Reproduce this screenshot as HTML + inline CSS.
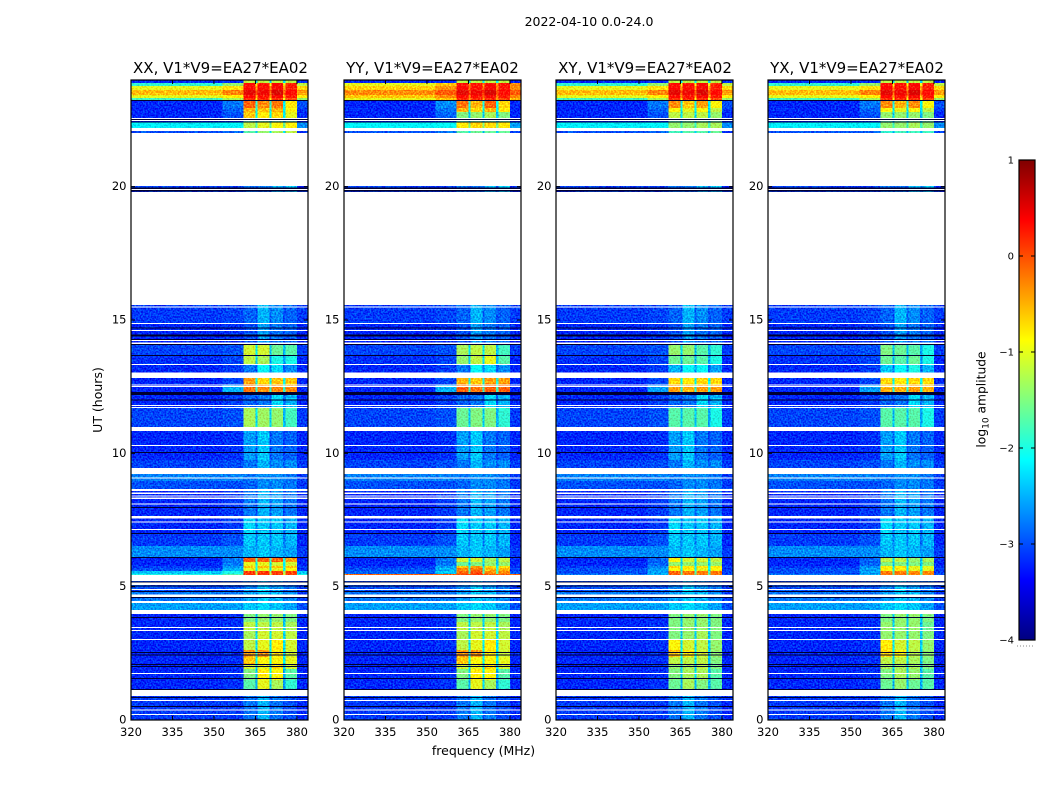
<!DOCTYPE html>
<html lang="en">
<head>
<meta charset="utf-8">
<title>2022-04-10 waterfall amplitude</title>
<style>
html,body{margin:0;padding:0;background:#fff;}
svg{display:block;}
text{font-family:"DejaVu Sans","Liberation Sans",sans-serif;fill:#000;}
</style>
</head>
<body>
<svg id="chart" xmlns="http://www.w3.org/2000/svg" width="1050" height="800" viewBox="0 0 1050 800">
  <defs>
    <filter id="grain" filterUnits="objectBoundingBox" x="0" y="0" width="1" height="1" color-interpolation-filters="sRGB">
      <feTurbulence type="fractalNoise" baseFrequency="0.6" numOctaves="1" seed="7" result="noise"/>
      <feColorMatrix in="noise" type="matrix" values="0 0 0 0 0.4  2.6 0 0 0 -0.9  1.2 0 0 0 -0.2  0 0 0 0 1" result="tint"/>
      <feComposite in="SourceGraphic" in2="tint" operator="arithmetic" k1="0" k2="1" k3="0.42" k4="-0.168" result="mixed"/>
      <feComposite in="mixed" in2="SourceAlpha" operator="in"/>
    </filter>
    <linearGradient id="jet-gradient" x1="0" y1="1" x2="0" y2="0"></linearGradient>
  </defs>
  <text x="589" y="26" font-size="12.5" text-anchor="middle">2022-04-10 0.0-24.0</text>
  <text x="483.5" y="755" font-size="12.5" text-anchor="middle">frequency (MHz)</text>
  <text x="0" y="0" font-size="12.5" text-anchor="middle" transform="translate(102 400) rotate(-90)">UT (hours)</text>
  <g id="panels"></g>
  <g id="colorbar"></g>
</svg>
<script>
const panelTitles = ["XX, V1*V9=EA27*EA02", "YY, V1*V9=EA27*EA02", "XY, V1*V9=EA27*EA02", "YX, V1*V9=EA27*EA02"];
const xTickValues = [320, 335, 350, 365, 380];
const yTickValues = [0, 5, 10, 15, 20];
const colorTicks = [-4, -3, -2, -1, 0, 1];

/* frequency cell edges in MHz: background, mid, band 1, gap, band 2, gap, band 3, gap, band 4, right */
const cellEdges = [320, 353, 360.7, 365, 365.7, 370, 370.8, 375, 375.8, 380.1, 384];
const cellLevel = [0, 1, 2, -1, 3, -1, 4, -1, 5, 6];

/* time spans in UT hours */
const spanHours = [
[24,23.89],[23.89,23.78],[23.78,23.63],[23.63,23.44],[23.44,23.33],[23.33,23.21],[23.21,22.95],[22.95,22.8],[22.8,22.58],[22.58,22.43],
[22.43,22.2],[22.09,22.01],[20.03,19.8],[15.56,14.85],[14.85,14.06],[14.06,13.69],[13.69,13.35],[13.35,13.03],[12.83,12.56],[12.56,12.3],
[12.3,11.7],[11.7,10.99],[10.84,9.75],[9.75,9.45],[9.23,8.96],[8.96,8.66],[8.66,7.65],[7.65,6.98],[6.98,6.53],[6.53,6.08],
[6.08,5.93],[5.93,5.78],[5.78,5.7],[5.7,5.59],[5.59,5.48],[5.48,5.44],[5.21,4.84],[4.84,4.46],[4.46,4.13],[3.98,3.68],
[3.68,3.38],[3.38,3.0],[3.0,2.63],[2.63,2.36],[2.36,2.1],[2.1,1.91],[1.91,1.5],[1.5,1.14],[0.9,0]
];

/* log10 amplitude per span: bg, mid, band1, band2, band3, band4, right */
const levelsXX = [
[-3.2,-3.2,-1.2,-1.2,-1.2,-1.2,-3.2],[-1.9,-1.4,.35,.3,.4,.2,-1.2],[-1,-.75,.35,.3,.4,.25,-.7],[-.55,-.25,.5,.45,.55,.35,-.4],[-1,-.8,.35,.3,.4,.25,-.8],[-1.8,-1.3,.15,.15,.15,.05,-1.4],
[-3.2,-2.8,-.1,-.3,-.2,-.8,-3],[-3.2,-2.9,-.5,-.6,-.5,-.9,-3.1],[-3.2,-3,-.6,-.8,-.7,-1,-3.2],[-3.3,-3.2,-1.7,-1.6,-1.6,-1.6,-3.3],
[-2.2,-2.15,-1.2,-1,-.9,-.85,-2.7],[-3,-2.9,-1.7,-1.4,-1.3,-1.2,-3.1],[-3.1,-3.1,-2.8,-2.8,-2.5,-2.4,-3.2],[-3.1,-3.05,-2.9,-2.5,-2.7,-2.9,-3.1],[-3.2,-3.15,-3,-2.6,-2.8,-2.9,-3.2],
[-3.05,-3,-1.1,-1.1,-1.6,-1.7,-3.1],[-3.15,-3.05,-1.2,-1.3,-2,-2,-3.2],[-3.2,-3.1,-2.8,-2.1,-2.3,-2.7,-3.2],[-3.2,-3.05,-.4,-.7,-.6,-.6,-3.2],[-3.2,-2.5,-.2,-.3,-.3,-.3,-3.2],
[-3.2,-3.1,-2.9,-2.8,-2.3,-2.5,-3.2],[-3.05,-3,-1.3,-1.35,-1.4,-1.8,-3.1],[-3.2,-3.15,-2.6,-2.4,-2.8,-2.9,-3.2],[-3.05,-3,-2.8,-2.5,-2.7,-2.7,-3.1],[-2.75,-2.75,-2.8,-2.7,-2.7,-2.8,-3.1],
[-3,-3,-2.9,-2.7,-2.7,-2.8,-3.1],[-3.2,-3.1,-2.8,-2.5,-2.6,-2.8,-3.2],[-3.2,-3.1,-2.3,-2.4,-2.4,-2.5,-3.2],[-3.1,-3,-2.4,-2.4,-2.4,-2.5,-3.2],[-2.7,-2.7,-2.5,-2.4,-2.5,-2.6,-3.1],
[-3.2,-2.8,-.1,-.1,-.1,-.4,-3.2],[-3.2,-2.8,-1,-1,-1.1,-1.1,-3.2],[-3.1,-2.6,-.6,-.6,-.6,-.6,-3.1],[-3,-2.5,-1,-1,-1,-.9,-3.1],[-2.4,-2,.1,.1,.1,.05,-2.4],
[-2,-1.7,.1,.1,.1,.05,-2],[-3,-2.95,-2.7,-2.4,-2.6,-2.8,-3.1],[-2.8,-2.8,-2.6,-2.4,-2.5,-2.7,-3.1],[-2.6,-2.6,-2.4,-2.3,-2.4,-2.6,-3],[-3.2,-3.15,-1.5,-1.4,-1.4,-1.5,-3.2],
[-3.2,-3.15,-1.2,-1.2,-1.2,-1.3,-3.2],[-3.2,-3.15,-1.3,-1.1,-1.1,-1.2,-3.2],[-3.2,-3.15,-1.2,-1,-.8,-1.1,-3.2],[-3.2,-3.15,-.4,-.4,-.8,-1.1,-3.2],[-3.2,-3.15,-.6,-.9,-.9,-1,-3.2],
[-3.2,-3.15,-1.1,-1,-.7,-1.1,-3.2],[-3.2,-3.15,-1.5,-.8,-.9,-1.7,-3.2],[-3.2,-3.15,-1.7,-1,-1.3,-1.9,-3.2],[-3.1,-3.1,-2.8,-2.5,-2.8,-3,-3.2]
];

/* per-polarisation differences: span index followed by the seven levels */
const overridesYY = [
[1,-1,-.6,.35,.3,.4,.3,-.3],[2,-.65,-.35,.35,.3,.4,.3,-.3],[3,-.3,-.05,.5,.45,.55,.35,-.05],[4,-.6,-.3,.35,.3,.4,.25,-.3],[5,-1,-.6,.15,.15,.15,.05,-.5],
[6,-3.2,-2.7,-.2,-.5,-.1,-.7,-3.2],[7,-3.2,-2.8,-.5,-.7,-.5,-.8,-3.2],[8,-3.2,-2.9,-1.5,-1.4,-1.3,-1.5,-3.2],[10,-2.15,-2.1,-.8,-.7,-.7,-.8,-2.6],[11,-3,-2.8,-1.7,-1.6,-1.6,-1.6,-3.1],
[15,-3.05,-3,-1.3,-1.2,-1.2,-1.8,-3.1],[16,-3.15,-3.05,-1.4,-1.2,-1,-1.7,-3.2],[18,-3.2,-3.05,-.5,-.6,-.4,-.4,-3.2],[19,-3.2,-2.5,-.1,-.2,-.1,-.1,-3.2],[21,-3.05,-3,-1.6,-1.5,-1.5,-1.9,-3.1],
[30,-3.2,-2.8,-1.1,-1.1,-1.3,-1.2,-3.2],[31,-3.2,-2.8,-1.6,-1.5,-1.4,-1.4,-3.2],[32,-3.1,-2.6,-.6,-.4,-.7,-.7,-3.1],[33,-3,-2.5,-.3,-.2,-.5,-.5,-3.1],[34,-2.9,-2.4,-.1,.05,-.3,-.3,-3],[35,-.1,-.1,0,.05,-.1,-.1,-.1]
];
const overridesXY = [
[6,-3.2,-2.8,-.3,-.6,-.4,-.9,-3],[7,-3.2,-2.9,-.9,-1,-.9,-1.2,-3.1],[8,-3.2,-3,-1.2,-1.2,-1.2,-1.4,-3.2],[10,-2.2,-2.15,-1.4,-1.4,-1.3,-1.3,-2.7],[11,-3,-2.9,-1.8,-1.7,-1.7,-1.6,-3.1],
[15,-3.05,-3,-1.4,-1.4,-1.7,-1.9,-3.1],[16,-3.15,-3.05,-1.6,-1.6,-1.7,-2,-3.2],[17,-3.2,-3.1,-2.5,-2.1,-2.1,-2.6,-3.2],[18,-3.2,-3.05,-.7,-.8,-.7,-.7,-3.2],[19,-3.2,-2.6,-.4,-.5,-.4,-.4,-3.2],[21,-3.05,-3,-1.7,-1.7,-1.7,-2,-3.1],
[30,-3.2,-2.9,-.9,-1.1,-1.1,-1.2,-3.2],[31,-3.2,-2.9,-1.4,-1.4,-1.4,-1.4,-3.2],[32,-3.1,-2.7,-.7,-.8,-.8,-.8,-3.1],[33,-3,-2.6,-.9,-.8,-1,-.9,-3.1],[34,-3,-2.6,-.1,-.2,-.2,-.2,-3.1],[35,-2.8,-2.5,-.1,-.2,-.2,-.2,-3],
[40,-3.2,-3.15,-1.5,-1.4,-1.4,-1.5,-3.2],[41,-3.2,-3.15,-1.5,-1.4,-1.3,-1.5,-3.2],[42,-3.2,-3.15,-.9,-1.1,-1.2,-1.4,-3.2],[43,-3.2,-3.15,-.6,-.8,-1.1,-1.4,-3.2],[44,-3.2,-3.15,-1.2,-1.2,-1.2,-1.5,-3.2],[45,-3.2,-3.15,-1.4,-1.3,-1.2,-1.5,-3.2],[46,-3.2,-3.15,-1.5,-1.3,-1.3,-1.7,-3.2],[47,-3.2,-3.15,-1.6,-1.3,-1.5,-1.7,-3.2]
];
const overridesYX = [
[6,-3.2,-2.8,-.3,-.5,-.3,-.9,-3],[7,-3.2,-2.9,-.9,-1,-.9,-1.2,-3.1],[8,-3.2,-3,-1.4,-1.4,-1.4,-1.5,-3.2],[10,-2.2,-2.15,-1.4,-1.4,-1.3,-1.4,-2.7],[11,-3,-2.9,-1.9,-1.8,-1.8,-1.8,-3.1],
[15,-3.05,-3,-1.5,-1.6,-1.7,-2,-3.1],[16,-3.15,-3.05,-1.6,-1.7,-1.6,-2,-3.2],[17,-3.2,-3.1,-2.4,-2.1,-2,-2.5,-3.2],[18,-3.2,-3.05,-.7,-.8,-.7,-.7,-3.2],[19,-3.2,-2.6,-.5,-.5,-.4,-.5,-3.2],[21,-3.05,-3,-1.7,-1.7,-1.7,-2,-3.1],
[30,-3.2,-2.9,-1.2,-1.2,-1.4,-1.3,-3.2],[31,-3.2,-2.9,-1.5,-1.5,-1.5,-1.5,-3.2],[32,-3.1,-2.7,-.8,-.8,-1,-1,-3.1],[33,-3,-2.6,-.9,-.8,-1,-1,-3.1],[34,-3,-2.6,-.2,-.2,-.3,-.3,-3.1],[35,-2.8,-2.5,-.2,-.2,-.3,-.3,-3],
[40,-3.2,-3.15,-1.4,-1.4,-1.4,-1.6,-3.2],[41,-3.2,-3.15,-1.4,-1.4,-1.4,-1.5,-3.2],[42,-3.2,-3.15,-.8,-1.1,-1.2,-1.4,-3.2],[43,-3.2,-3.15,-.7,-.9,-1.2,-1.4,-3.2],[44,-3.2,-3.15,-1.2,-1.2,-1.3,-1.5,-3.2],[45,-3.2,-3.15,-1.3,-1.3,-1.3,-1.5,-3.2],[46,-3.2,-3.15,-1.5,-1.3,-1.4,-1.7,-3.2],[47,-3.2,-3.15,-1.6,-1.4,-1.6,-1.7,-3.2]
];

/* flagged (no data) and very low amplitude intervals, UT hours */
const flaggedHours = [
[22.58,22.54],[22.5,22.46],[19.91,19.88],[15.51,15.47],[14.89,14.85],[14.63,14.59],[14.25,14.21],[14.16,14.1],[13.35,13.31],[12.58,12.54],[12.53,12.49],[11.81,11.78],[11.74,11.7],[10.31,10.28],
[9.09,9.06],[8.66,8.59],[8.53,8.48],[8.42,8.38],[8.34,8.29],[8.12,8.09],[7.65,7.56],[7.44,7.41],[7.16,7.13],[5.16,5.06],[4.91,4.88],[4.71,4.61],[4.46,4.39],[3.49,3.45],[3.38,3.34],[3.04,3],[1.76,1.73],[.75,.71],[.39,.36],[.23,.19]
];
const blankedHours = [
[23.25,23.21],[22.54,22.5],[22.44,22.41],[19.97,19.91],[19.88,19.82],[14.72,14.68],[14.46,14.38],[14.29,14.25],[14.1,14.06],[13.69,13.65],[12.3,12.19],[12.02,12],[10.05,10.01],[7.99,7.95],[7.01,6.98],[6.11,6.08],[5.2,5.17],[5.04,5.01],[4.84,4.8],[4.61,4.58],[3.86,3.83],[2.55,2.51],[2.46,2.42],[2.1,2.06],[2.03,1.99],[1.58,1.54],[1.16,1.13],[.86,.83],[.53,.49]
];

const NS = "http://www.w3.org/2000/svg";
const plotLefts = [131, 344, 556, 768];
const titleCenters = [220.5, 432.5, 645, 857];
const plotWidth = 177;
const plotTop = 80, plotBottom = 720;
const freqMin = 320, freqMax = 384;
const hourMax = 24;
const cbarX = 1019, cbarW = 16, cbarTop = 160, cbarBottom = 640;
const levelMin = -4, levelMax = 1;

function xScale(freq, panel) { return plotLefts[panel] + (freq - freqMin) / (freqMax - freqMin) * plotWidth; }
function yScale(hour) { return plotBottom - hour / hourMax * (plotBottom - plotTop); }
function cbarScale(level) { return cbarBottom - (level - levelMin) / (levelMax - levelMin) * (cbarBottom - cbarTop); }
function clamp01(v) { return Math.max(0, Math.min(1, v)); }
function jet(level) {
  const t = clamp01((level - levelMin) / (levelMax - levelMin));
  const r = clamp01(1.5 - Math.abs(4 * t - 3));
  const g = clamp01(1.5 - Math.abs(4 * t - 2));
  const b = clamp01(1.5 - Math.abs(4 * t - 1));
  return "rgb(" + Math.round(r * 255) + "," + Math.round(g * 255) + "," + Math.round(b * 255) + ")";
}
function make(tag, attrs, parent) {
  const el = document.createElementNS(NS, tag);
  for (const k in attrs) el.setAttribute(k, attrs[k]);
  parent.appendChild(el);
  return el;
}
function applyOverrides(base, overrides) {
  const rows = base.map(function (r) { return r.slice(); });
  overrides.forEach(function (o) { rows[o[0]] = o.slice(1); });
  return rows;
}
function gapLevel(row, cellIndex) {
  const band = Math.min(row[cellLevel[cellIndex - 1]], row[cellLevel[cellIndex + 1]]);
  return row[0] + 0.45 * (band - row[0]);
}

const panelLevels = [levelsXX, applyOverrides(levelsXX, overridesYY), applyOverrides(levelsXX, overridesXY), applyOverrides(levelsXX, overridesYX)];
const panelsRoot = document.getElementById("panels");

panelTitles.forEach(function (title, p) {
  const panel = make("g", {}, panelsRoot);
  
  

  const heat = make("g", { filter: "url(#grain)", "shape-rendering": "crispEdges" }, panel);
  
  
  spanHours.forEach(function (span, s) {
    const row = panelLevels[p][s];
    cellLevel.forEach(function (levelIndex, c) {
      const level = levelIndex < 0 ? gapLevel(row, c) : row[levelIndex];
      const x0 = xScale(cellEdges[c], p), x1 = xScale(cellEdges[c + 1], p);
      const y0 = yScale(span[0]), y1 = yScale(span[1]);
      const cell = make("rect", { x: x0, y: y0, width: x1 - x0, height: y1 - y0, fill: jet(level) }, heat);
      
      
    });
  });

  const lines = make("g", { "shape-rendering": "crispEdges" }, panel);
  
  
  flaggedHours.forEach(function (f) {
    const gap = make("rect", { x: xScale(freqMin, p), y: yScale(f[0]), width: plotWidth, height: Math.max(1, yScale(f[1]) - yScale(f[0])), fill: "#fff" }, lines);
    
    
  });
  blankedHours.forEach(function (f) {
    const dark = make("rect", { x: xScale(freqMin, p), y: yScale(f[0]), width: plotWidth, height: Math.max(1, yScale(f[1]) - yScale(f[0])), fill: "#000030" }, lines);
    
    
  });

  const frame = make("rect", { x: plotLefts[p], y: plotTop, width: plotWidth, height: plotBottom - plotTop, fill: "none", stroke: "#000", "stroke-width": 1.2 }, panel);
  
  

  const heading = make("text", { x: titleCenters[p], y: 73, "font-size": 15, "text-anchor": "middle" }, panel);
  heading.textContent = title;
  
  

  xTickValues.forEach(function (v) {
    const x = xScale(v, p);
    const tickB = make("line", { x1: x, x2: x, y1: plotBottom, y2: plotBottom - 4, stroke: "#000" }, panel);
    
    
    const tickT = make("line", { x1: x, x2: x, y1: plotTop, y2: plotTop + 4, stroke: "#000" }, panel);
    
    
    const label = make("text", { x: x, y: 736, "font-size": 11.5, "text-anchor": "middle" }, panel);
    label.textContent = v;
    
    
  });
  yTickValues.forEach(function (v) {
    const y = yScale(v);
    const tickL = make("line", { x1: plotLefts[p], x2: plotLefts[p] + 4, y1: y, y2: y, stroke: "#000" }, panel);
    
    
    const tickR = make("line", { x1: plotLefts[p] + plotWidth, x2: plotLefts[p] + plotWidth - 4, y1: y, y2: y, stroke: "#000" }, panel);
    
    
    const label = make("text", { x: plotLefts[p] - 4.5, y: y + 3.5, "font-size": 11.5, "text-anchor": "end" }, panel);
    label.textContent = v;
    
    
  });
});

const gradient = document.getElementById("jet-gradient");
for (let i = 0; i <= 32; i++) {
  make("stop", { offset: (i / 32), "stop-color": jet(levelMin + (levelMax - levelMin) * i / 32) }, gradient);
}
const cbar = document.getElementById("colorbar");
const cbarRect = make("rect", { x: cbarX, y: cbarTop, width: cbarW, height: cbarBottom - cbarTop, fill: "url(#jet-gradient)", stroke: "#000", "stroke-width": 1.2 }, cbar);


colorTicks.forEach(function (v) {
  const y = cbarScale(v);
  const t1 = make("line", { x1: cbarX, x2: cbarX + 4, y1: y, y2: y, stroke: "#000" }, cbar);
  
  
  const t2 = make("line", { x1: cbarX + cbarW - 4, x2: cbarX + cbarW, y1: y, y2: y, stroke: "#000" }, cbar);
  
  
  const label = make("text", { x: cbarX - 5, y: y + 3.5, "font-size": 10, "text-anchor": "end" }, cbar);
  label.textContent = String(v).replace("-", "\u2212");
  
  
});
const cbarTitle = make("text", { "font-size": 12.3, "text-anchor": "middle", transform: "translate(985.5 399.5) rotate(-90)" }, cbar);


cbarTitle.appendChild(document.createTextNode("log"));
const cbarSub = make("tspan", { "font-size": 9, dy: 3 }, cbarTitle);
cbarSub.textContent = "10";
const cbarRest = make("tspan", { dy: -3 }, cbarTitle);
cbarRest.textContent = " amplitude";
const cbarDots = make("line", { x1: cbarX - 2, x2: cbarX + cbarW, y1: 646, y2: 646, stroke: "#888", "stroke-dasharray": "1 2" }, cbar);


</script>
</body>
</html>
